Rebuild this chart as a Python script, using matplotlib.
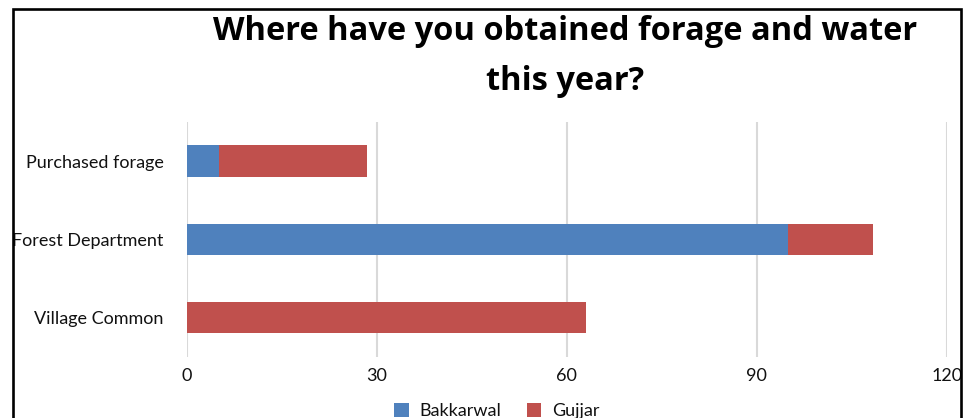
import matplotlib
matplotlib.use("Agg")
import matplotlib.pyplot as plt
from matplotlib.lines import Line2D
from matplotlib.patches import Patch

plt.rcParams['font.family'] = ['Lato', 'DejaVu Sans']

categories = ["Village Common", "Forest Department", "Purchased forage"]
bakkarwal = [0, 95, 5]
gujjar = [63, 13.4, 23.4]
xticks = [0, 30, 60, 90, 120]
series_names = ["Bakkarwal", "Gujjar"]
colors = ["#4F81BD", "#C0504D"]

W, H = 965, 418
fig = plt.figure(figsize=(W / 100, H / 100), dpi=100)
fig.patch.set_facecolor("white")

ax = fig.add_axes([187 / W, 1 - 356.5 / H, 759.7 / W, 234.5 / H])
y = list(range(len(categories)))
ax.barh(y, bakkarwal, height=0.4, color=colors[0], zorder=3)
ax.barh(y, gujjar, left=bakkarwal, height=0.4, color=colors[1], zorder=3)

ax.set_xlim(0, 120)
ax.set_ylim(-0.5, 2.5)
ax.set_xticks(xticks)
ax.set_xticklabels([str(t) for t in xticks])
ax.set_yticks(y)
ax.set_yticklabels(categories)
ax.grid(axis="x", color="#D9D9D9", linewidth=1.5, zorder=0)
ax.set_axisbelow(True)
for s in ax.spines.values():
    s.set_visible(False)
ax.tick_params(axis="both", length=0, labelsize=13, colors="#111111")
ax.tick_params(axis="y", pad=17)
ax.tick_params(axis="x", pad=8)

title_font = dict(ha="center", va="baseline", fontsize=23.5, fontweight="bold",
                  color="black", family=["Open Sans", "DejaVu Sans"])
fig.text(565 / W, 1 - 40 / H, "Where have you obtained forage and water", **title_font)
fig.text(565 / W, 1 - 90 / H, "this year?", **title_font)

handles = [Patch(facecolor=c, edgecolor="none") for c in colors]
fig.legend(handles, series_names, loc="center", bbox_to_anchor=(497 / W, 1 - 411 / H),
           ncol=2, frameon=False, fontsize=13, handlelength=0.8, handleheight=0.8,
           handletextpad=0.6, columnspacing=1.4, labelcolor="#111111")

# outer frame
fig.add_artist(Line2D([12.5 / W, 12.5 / W, 961 / W, 961 / W],
                      [-0.1, 1 - 9 / H, 1 - 9 / H, -0.1],
                      transform=fig.transFigure, color="black", linewidth=1.9,
                      solid_joinstyle="miter", clip_on=False))

fig.savefig("out.png", dpi=100, facecolor="white")
